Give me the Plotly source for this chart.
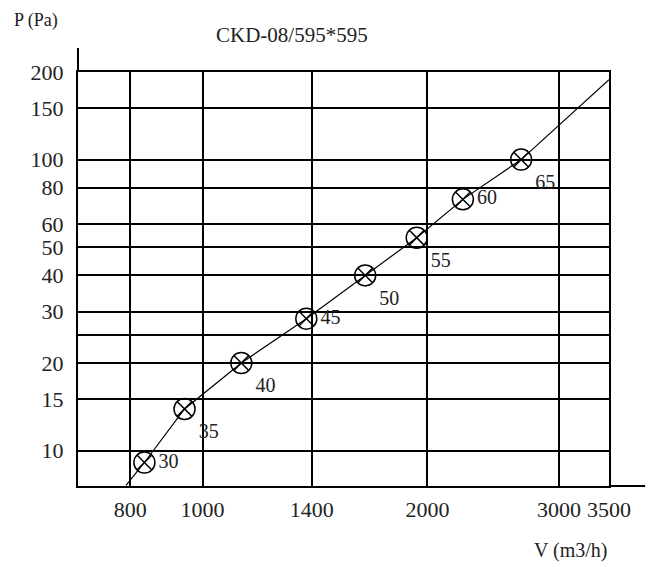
import plotly.graph_objects as go

# damper CKD-08/595*595: pressure drop vs airflow, points labelled by blade setting
point_labels = ["30", "35", "40", "45", "50", "55", "60", "65"]
airflow = [836, 946, 1127, 1377, 1651, 1935, 2231, 2670]
pressure = [9.1, 13.9, 20, 28.4, 40, 53.9, 73, 100]

# where the characteristic line starts and ends
line_start = (790, 7.6)
line_end = (3500, 188)

x_ticks = [800, 1000, 1400, 2000, 3000, 3500]
y_ticks = [10, 15, 20, 25, 30, 40, 50, 60, 80, 100, 150, 200]
y_tick_text = ["10", "15", "20", "", "30", "40", "50", "60", "80", "100", "150", "200"]

font = "Liberation Serif, Times New Roman, serif"

fig = go.Figure()
fig.add_trace(
    go.Scatter(
        x=[line_start[0]] + airflow + [line_end[0]],
        y=[line_start[1]] + pressure + [line_end[1]],
        mode="lines",
        line=dict(color="black", width=1.2),
        hoverinfo="skip",
    )
)
fig.add_trace(
    go.Scatter(
        x=airflow,
        y=pressure,
        mode="markers+text",
        text=point_labels,
        textposition=["middle right", "bottom right", "bottom right", "middle right",
                      "bottom right", "bottom right", "middle right", "bottom right"],
        textfont=dict(family=font, size=20, color="#222"),
        marker=dict(symbol="circle-x-open", size=21, color="black", line=dict(width=1.5)),
        cliponaxis=False,
    )
)

axis_style = dict(
    type="log",
    showgrid=True,
    gridcolor="black",
    gridwidth=2,
    showline=True,
    linecolor="black",
    linewidth=2,
    mirror=True,
    ticks="",
    zeroline=False,
    tickfont=dict(family=font, size=22, color="#222"),
)

fig.update_layout(
    width=650,
    height=559,
    margin=dict(l=70, r=49, t=64, b=81),
    plot_bgcolor="white",
    paper_bgcolor="white",
    showlegend=False,
    xaxis=dict(axis_style, range=[2.8333, 3.5441], tickvals=x_ticks,
               ticktext=[str(v) for v in x_ticks], ticklabelstandoff=3),
    yaxis=dict(axis_style, range=[0.8783, 2.301], tickvals=y_ticks,
               ticktext=y_tick_text, ticklabelstandoff=8),
    shapes=[
        # axis lines run past the grid
        dict(type="line", xref="paper", yref="paper", x0=1, x1=1.068, y0=0, y1=0,
             line=dict(color="black", width=2)),
        dict(type="line", xref="paper", yref="paper", x0=0, x1=0, y0=1, y1=1.058,
             line=dict(color="black", width=2)),
    ],
    annotations=[
        dict(text="CKD-08/595*595", x=0.403, y=1.089, xref="paper", yref="paper",
             xanchor="center", yanchor="middle", showarrow=False,
             font=dict(family=font, size=21, color="#222")),
        dict(text="P (Pa)", x=-0.124, y=1.125, xref="paper", yref="paper",
             xanchor="left", yanchor="middle", showarrow=False,
             font=dict(family=font, size=18, color="#222")),
        dict(text="V (m3/h)", x=0.928, y=-0.155, xref="paper", yref="paper",
             xanchor="center", yanchor="middle", showarrow=False,
             font=dict(family=font, size=20, color="#222")),
    ],
)

fig.write_html("out.html")
